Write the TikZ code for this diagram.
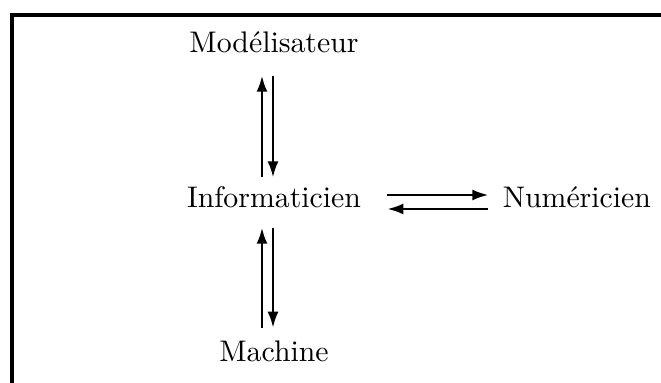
\documentclass[tikz,border=0pt]{standalone}
\usepackage{fontspec}
\newfontfamily\labelfont{lmroman10-regular.otf}
\usepackage{tikz}
\usetikzlibrary{arrows.meta}
\newcommand{\gapvert}{155}
\newcommand{\gaphoriz}{141}
\tikzset{
    actor/.style={anchor=base, inner sep=0pt, font=\labelfont\fontsize{14.9}{18}\selectfont},
    flow/.style={line width=1.2pt, -{Latex[length=8pt, width=5.5pt]}},
    frame/.style={line width=1.7pt, line cap=rect}
}

\begin{document}
\begin{tikzpicture}[x=0.5pt, y=-0.5pt]
    \useasboundingbox (0,0) rectangle (661,383);
    \draw[frame] (12,383) -- (12,15) -- (661,15);

    \path (274,53) node[actor] (mod) {Modélisateur}
          ++(0,\gapvert) node[actor] (inf) {Informaticien}
          ++(0,154) node[actor] (mac) {Machine};
    \path (inf.base east) ++(\gaphoriz,0) node[actor, anchor=base west] (num) {Numéricien};

    % Modelisateur <-> Informaticien
    \draw[flow, shorten <=4.6pt, shorten >=11pt] ([xshift=-6pt]inf.north) -- ([xshift=-6pt]mod.south);
    \draw[flow, shorten <=11pt, shorten >=4.6pt] ([xshift=-0.5pt]mod.south) -- ([xshift=-0.5pt]inf.north);
    % Informaticien <-> Machine
    \draw[flow, shorten <=6.6pt, shorten >=9.5pt] ([xshift=-6pt]mac.north) -- ([xshift=-6pt]inf.south);
    \draw[flow, shorten <=9.5pt, shorten >=6.6pt] ([xshift=-0.5pt]inf.south) -- ([xshift=-0.5pt]mac.north);
    % Informaticien <-> Numericien
    \draw[flow, shorten <=13pt, shorten >=7pt] ([yshift=6.5pt]inf.base east) -- ([yshift=6.5pt]inf.base east -| num.west);
    \draw[flow, shorten <=7pt, shorten >=13pt] ([yshift=-0.5pt]inf.base east -| num.west) -- ([yshift=-0.5pt]inf.base east);
\end{tikzpicture}
\end{document}
